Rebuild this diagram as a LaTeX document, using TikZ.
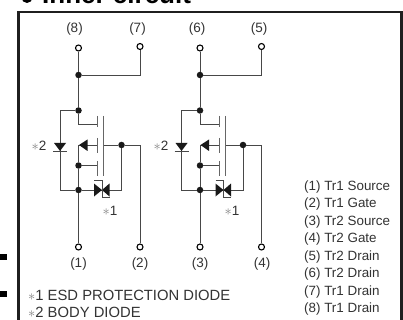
\documentclass[tikz,border=0pt]{standalone}
\usepackage{fontspec}
\setmainfont{Liberation Sans}
\usepackage{xcolor}
\definecolor{inkgray}{HTML}{333333}
\newcommand{\stargray}{{\color{gray}$\ast$}}
\tikzset{
  wire/.style={line width=0.9pt,draw=inkgray!90!white},
  plate/.style={line width=0.9pt,draw=inkgray!75!white},
  dot/.style={circle,fill=inkgray!50!black,inner sep=0pt,minimum size=6.5pt},
  term/.style={circle,draw=black,fill=white,line width=1.1pt,inner sep=0pt,minimum size=6pt},
  tip/.style={fill=inkgray!50!black,draw=none},
  lbl/.style={text=inkgray,font=\fontsize{13.5}{13.5}\selectfont,inner sep=0pt},
  note/.style={text=inkgray,font=\fontsize{14.8}{14.8}\selectfont,inner sep=0pt,anchor=base west},
  pinrow/.style={text=inkgray,font=\fontsize{13.4}{13.4}\selectfont,inner sep=0pt,anchor=base west}
}
\begin{document}
\begin{tikzpicture}[x=1pt,y=-1pt]
\useasboundingbox (0,0) rectangle (403,320);
\fill[white] (0,0) rectangle (403,320);

% heading and frame
\clip (0,0) rectangle (403,320);
\node[circle,fill=black,inner sep=0pt,minimum size=11pt] (mark) at (27,-2.5) {};
\node[font=\fontsize{26}{26}\selectfont\bfseries,text=black,inner sep=0pt,anchor=base west] (title) at (42,4) {Inner circuit};
\draw[line width=2.2pt,draw=inkgray!60!black] (18.5,340) -- (18.5,12) -- (401.5,12) -- (401.5,340);
\fill[black] (0,254) rectangle (7,260);
\fill[black] (0,291) rectangle (7,297);

% first transistor
\node[term] (t8) at (78.5,48) {};
\node[term] (t7) at (140,46.5) {};
\node[term] (t1) at (78.5,247) {};
\node[term] (t2) at (140,247) {};
\node[dot] (j8) at (78.5,75) {};
\node[dot] (jd) at (78.5,110.5) {};
\node[dot] (js) at (78.5,165.5) {};
\node[dot] (jb) at (78.5,190) {};
\node[dot] (jg) at (121.5,145) {};
\coordinate (k7) at (140,75);
\coordinate (kl) at (60,110.5);
\coordinate (kb) at (60,190);
\coordinate (kd) at (78.5,124);
\coordinate (pd) at (97.5,124);
\coordinate (pm) at (97.5,145);
\coordinate (am) at (78.5,145);
\coordinate (ps) at (97.5,165.5);
\coordinate (bg) at (103.5,145);
\coordinate (kg) at (140,145);
\coordinate (ke) at (121.5,190);
\draw[wire] (t8) -- (j8) -- (jd) -- (kd) -- (pd);
\draw[wire] (j8) -- (k7) -- (t7);
\draw[wire] (jd) -- (kl) -- (kb) -- (jb) -- (t1);
\draw[wire] (am) -- (js) -- (jb);
\draw[wire] (js) -- (ps);
\draw[wire] (pm) -- (am);
\draw[wire] (bg) -- (jg) -- (kg) -- (t2);
\draw[wire] (jg) -- (ke) -- (jb);
\draw[plate] (97.5,116) -- (97.5,127);
\draw[plate] (97.5,138) -- (97.5,153);
\draw[plate] (97.5,161) -- (97.5,176);
\draw[plate] (103.5,116) -- (103.5,176);
\fill[tip] (79,145) -- (87.5,139.5) -- (87.5,151) -- cycle;
\fill[tip] (54,143) -- (66,143) -- (60,151) -- cycle;
\draw[wire] (53,151) -- (67,151);
\fill[tip] (94,183.5) -- (102,190) -- (94,196.5) -- cycle;
\fill[tip] (109.5,183.5) -- (102,190) -- (109.5,196.5) -- cycle;
\draw[wire] (94,180) -- (102,180) -- (102,197.5) -- (109.5,197.5);
\node[lbl] (n8) at (74.5,29) {(8)};
\node[lbl] (n7) at (137.5,29) {(7)};
\node[lbl] (n1) at (78.5,264.5) {(1)};
\node[lbl] (n2) at (140,264.5) {(2)};
\node[lbl] (s2a) at (39,146) {\stargray2};
\node[lbl] (s1a) at (110,211) {\stargray1};

% second transistor
\node[term] (t6) at (200,48) {};
\node[term] (t5) at (261.5,46.5) {};
\node[term] (t3) at (200,247) {};
\node[term] (t4) at (261.5,247) {};
\node[dot] (j6) at (200,75) {};
\node[dot] (jdb) at (200,110.5) {};
\node[dot] (jsb) at (200,165.5) {};
\node[dot] (jbb) at (200,190) {};
\node[dot] (jgb) at (243,145) {};
\coordinate (k5) at (261.5,75);
\coordinate (klb) at (181.5,110.5);
\coordinate (kbb) at (181.5,190);
\coordinate (kdb) at (200,124);
\coordinate (pdb) at (219,124);
\coordinate (pmb) at (219,145);
\coordinate (amb) at (200,145);
\coordinate (psb) at (219,165.5);
\coordinate (bgb) at (225,145);
\coordinate (kgb) at (261.5,145);
\coordinate (keb) at (243,190);
\draw[wire] (t6) -- (j6) -- (jdb) -- (kdb) -- (pdb);
\draw[wire] (j6) -- (k5) -- (t5);
\draw[wire] (jdb) -- (klb) -- (kbb) -- (jbb) -- (t3);
\draw[wire] (amb) -- (jsb) -- (jbb);
\draw[wire] (jsb) -- (psb);
\draw[wire] (pmb) -- (amb);
\draw[wire] (bgb) -- (jgb) -- (kgb) -- (t4);
\draw[wire] (jgb) -- (keb) -- (jbb);
\draw[plate] (219,116) -- (219,127);
\draw[plate] (219,138) -- (219,153);
\draw[plate] (219,161) -- (219,176);
\draw[plate] (225,116) -- (225,176);
\fill[tip] (200.5,145) -- (209,139.5) -- (209,151) -- cycle;
\fill[tip] (175.5,143) -- (187.5,143) -- (181.5,151) -- cycle;
\draw[wire] (174.5,151) -- (188.5,151);
\fill[tip] (215.5,183.5) -- (223.5,190) -- (215.5,196.5) -- cycle;
\fill[tip] (231,183.5) -- (223.5,190) -- (231,196.5) -- cycle;
\draw[wire] (215.5,180) -- (223.5,180) -- (223.5,197.5) -- (231,197.5);
\node[lbl] (n6) at (197,29) {(6)};
\node[lbl] (n5) at (259,29) {(5)};
\node[lbl] (n3) at (200,264.5) {(3)};
\node[lbl] (n4) at (262,264.5) {(4)};
\node[lbl] (s2b) at (161,146) {\stargray2};
\node[lbl] (s1b) at (232,211) {\stargray1};

% notes
\node[note] (e1) at (28,300) {\stargray1 ESD PROTECTION DIODE};
\node[note] (e2) at (28,317) {\stargray2 BODY DIODE};
\node[pinrow] (p1) at (304,190) {(1) Tr1 Source};
\node[pinrow] (p2) at (304,207.5) {(2) Tr1 Gate};
\node[pinrow] (p3) at (304,225) {(3) Tr2 Source};
\node[pinrow] (p4) at (304,242.5) {(4) Tr2 Gate};
\node[pinrow] (p5) at (304,260) {(5) Tr2 Drain};
\node[pinrow] (p6) at (304,277.5) {(6) Tr2 Drain};
\node[pinrow] (p7) at (304,295) {(7) Tr1 Drain};
\node[pinrow] (p8) at (304,312.5) {(8) Tr1 Drain};
\end{tikzpicture}
\end{document}
